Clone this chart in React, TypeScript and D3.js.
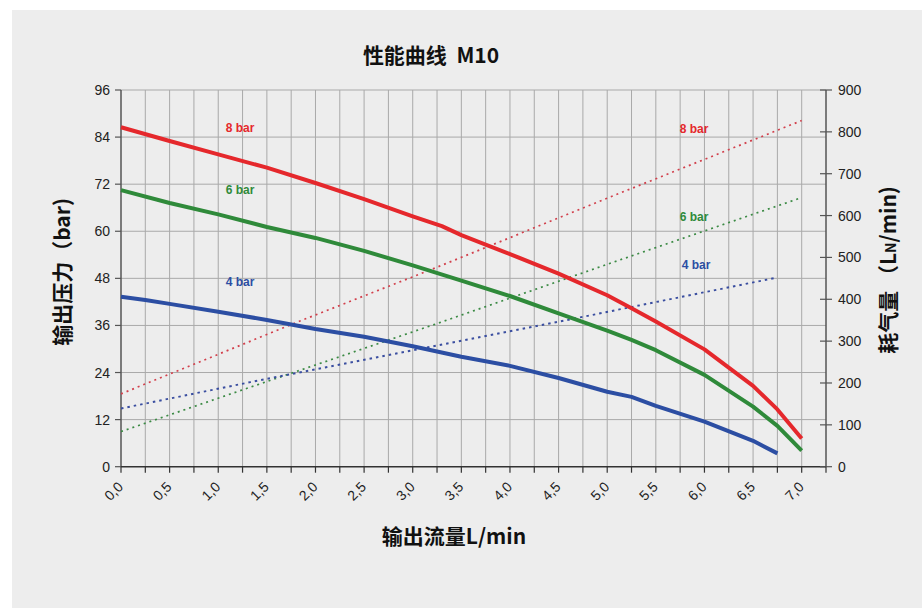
import React from "react";
import * as d3 from "d3";

const flowX8 = [0, 0.5, 1.0, 1.5, 2.0, 2.5, 3.0, 3.3, 3.5, 4.0, 4.5, 5.0, 5.25, 5.5, 6.0, 6.5, 6.75, 7.0];
const press8 = [86.5, 83, 79.6, 76.2, 72.3, 68.2, 63.8, 61.3, 59, 54.2, 49.2, 43.7, 40.4, 37, 29.9, 20.6, 14.6, 7.2];

const flowX6 = [0, 0.5, 1.0, 1.5, 2.0, 2.5, 3.0, 3.5, 4.0, 4.5, 5.0, 5.25, 5.5, 6.0, 6.5, 6.75, 7.0];
const press6 = [70.5, 67.2, 64.3, 61.1, 58.3, 55, 51.3, 47.4, 43.5, 39.1, 34.7, 32.3, 29.7, 23.4, 15.3, 10.4, 4.1];

const flowX4 = [0, 0.25, 0.5, 1.0, 1.5, 2.0, 2.5, 3.0, 3.5, 4.0, 4.5, 5.0, 5.25, 5.5, 6.0, 6.5, 6.75];
const press4 = [43.3, 42.5, 41.5, 39.5, 37.4, 35.1, 33.1, 30.7, 28, 25.7, 22.6, 19.1, 17.8, 15.5, 11.5, 6.6, 3.4];

const airX8 = [0, 1.84, 3.18, 5.07, 7.0];
const air8 = [174, 348, 470, 648, 827];
const airX6 = [0, 1.33, 3.25, 5.13, 7.0];
const air6 = [84, 190, 342, 494, 643];
const airX4 = [0, 1.33, 4.62, 6.75];
const air4 = [139, 202, 352, 452];

const leftTicks = [0, 12, 24, 36, 48, 60, 72, 84, 96];
const rightTicks = [0, 100, 200, 300, 400, 500, 600, 700, 800, 900];
const xLabelTicks = [0, 0.5, 1, 1.5, 2, 2.5, 3, 3.5, 4, 4.5, 5, 5.5, 6, 6.5, 7];
const xMinorTicks = d3.range(0, 7.2501, 0.25);

const title = "性能曲线\u00a0\u00a0M10";
const xTitle = "输出流量L/min";
const yTitle = "输出压力（bar)";
const y2TitleA = "耗气量\u00a0（L";
const y2TitleSub = "N";
const y2TitleB = "/min)";

const RED = "#e5282c";
const GREEN = "#2f8a3a";
const BLUE = "#2c4ea3";

export default function App() {
  const x = d3.scaleLinear().domain([0, 7.25]).range([121, 826]);
  const y = d3.scaleLinear().domain([0, 96]).range([466.7, 90]);
  const y2 = d3.scaleLinear().domain([0, 900]).range([466.7, 90]);

  const lineL = (xs: number[], ys: number[]) =>
    d3.line<number>().x((_, i) => x(xs[i])).y((d) => y(d))(ys) || "";
  const lineR = (xs: number[], ys: number[]) =>
    d3.line<number>().x((_, i) => x(xs[i])).y((d) => y2(d))(ys) || "";

  const gridColor = "#a9a9a9";
  const tickFont = "Liberation Sans, Arial, sans-serif";
  const cjk = "'Noto Sans CJK SC', sans-serif";
  const narrow = "'Liberation Sans Narrow', 'Arial Narrow', sans-serif";

  return (
    <svg
      width={922}
      height={608}
      style={{ position: "absolute", left: 0, top: 0, background: "#ffffff" }}
    >
      <rect x={12} y={10} width={910} height={598} fill="#ededed" />

      {/* title */}
      <text x={431} y={63} textAnchor="middle" fontFamily={cjk} fontWeight={700} fontSize={21} fill="#111">
        {title}
      </text>

      {/* grid */}
      {xMinorTicks.filter((t) => t > 0 && t < 7.25).map((t) => (
        <line key={"gx" + t} x1={x(t)} x2={x(t)} y1={y(96)} y2={y(0)} stroke={gridColor} strokeWidth={1} />
      ))}
      {leftTicks.filter((t) => t > 0).map((t) => (
        <line key={"gy" + t} x1={x(0)} x2={x(7.25)} y1={y(t)} y2={y(t)} stroke={gridColor} strokeWidth={1} />
      ))}

      {/* axes */}
      <line x1={x(0)} x2={x(0)} y1={y(96)} y2={y(0)} stroke="#555" strokeWidth={1.5} />
      <line x1={x(7.25)} x2={x(7.25)} y1={y(96)} y2={y(0)} stroke="#555" strokeWidth={1.5} />
      <line x1={x(0)} x2={x(7.25)} y1={y(0)} y2={y(0)} stroke="#333" strokeWidth={1.5} />

      {leftTicks.map((t) => (
        <g key={"lt" + t}>
          <line x1={x(0) - 6} x2={x(0)} y1={y(t)} y2={y(t)} stroke="#555" strokeWidth={1.2} />
          <text x={110} y={y(t) + 5} textAnchor="end" fontFamily={tickFont} fontSize={14} fill="#222">
            {t}
          </text>
        </g>
      ))}
      {rightTicks.map((t) => (
        <g key={"rt" + t}>
          <line x1={x(7.25) - 6} x2={x(7.25) + 6} y1={y2(t)} y2={y2(t)} stroke="#555" strokeWidth={1.2} />
          <text x={838} y={y2(t) + 5} textAnchor="start" fontFamily={tickFont} fontSize={14} fill="#222">
            {t}
          </text>
        </g>
      ))}
      {xMinorTicks.map((t) => (
        <line key={"xt" + t} x1={x(t)} x2={x(t)} y1={y(0)} y2={y(0) + 6} stroke="#333" strokeWidth={1.2} />
      ))}
      {xLabelTicks.map((t) => (
        <text
          key={"xl" + t}
          transform={`translate(${x(t) + 3},${y(0) + 21}) rotate(-45)`}
          textAnchor="end"
          fontFamily={tickFont}
          fontSize={14}
          fill="#222"
        >
          {t.toFixed(1).replace(".", ",")}
        </text>
      ))}

      {/* dotted air consumption */}
      <path d={lineR(airX8, air8)} fill="none" stroke="#d2404c" strokeWidth={1.7} strokeDasharray="2 4" />
      <path d={lineR(airX6, air6)} fill="none" stroke="#3b8a44" strokeWidth={1.7} strokeDasharray="2 4" />
      <path d={lineR(airX4, air4)} fill="none" stroke="#3a4ea0" strokeWidth={1.9} strokeDasharray="2.5 4" />

      {/* solid pressure curves */}
      <path d={lineL(flowX4, press4)} fill="none" stroke={BLUE} strokeWidth={4} strokeLinejoin="round" />
      <path d={lineL(flowX6, press6)} fill="none" stroke={GREEN} strokeWidth={4} strokeLinejoin="round" />
      <path d={lineL(flowX8, press8)} fill="none" stroke={RED} strokeWidth={4} strokeLinejoin="round" />

      {/* series labels */}
      <text x={240} y={132} textAnchor="middle" fontFamily={narrow} fontWeight={700} fontSize={12} fill={RED}>8 bar</text>
      <text x={240} y={194} textAnchor="middle" fontFamily={narrow} fontWeight={700} fontSize={12} fill={GREEN}>6 bar</text>
      <text x={240} y={286} textAnchor="middle" fontFamily={narrow} fontWeight={700} fontSize={12} fill={BLUE}>4 bar</text>
      <text x={694} y={133} textAnchor="middle" fontFamily={narrow} fontWeight={700} fontSize={12} fill={RED}>8 bar</text>
      <text x={694} y={221} textAnchor="middle" fontFamily={narrow} fontWeight={700} fontSize={12} fill={GREEN}>6 bar</text>
      <text x={696} y={269} textAnchor="middle" fontFamily={narrow} fontWeight={700} fontSize={12} fill={BLUE}>4 bar</text>

      {/* axis titles */}
      <text x={454} y={544} textAnchor="middle" fontFamily={cjk} fontWeight={700} fontSize={21} fill="#111">
        {xTitle}
      </text>
      <text
        transform="translate(70,272) rotate(-90)"
        textAnchor="middle"
        fontFamily={cjk}
        fontWeight={700}
        fontSize={21}
        fill="#111"
      >
        {yTitle}
      </text>
      <text
        transform="translate(896,270) rotate(-90)"
        textAnchor="middle"
        fontFamily={cjk}
        fontWeight={700}
        fontSize={21}
        fill="#111"
      >
        {y2TitleA}
        <tspan fontSize={14}>{y2TitleSub}</tspan>
        {y2TitleB}
      </text>
    </svg>
  );
}
